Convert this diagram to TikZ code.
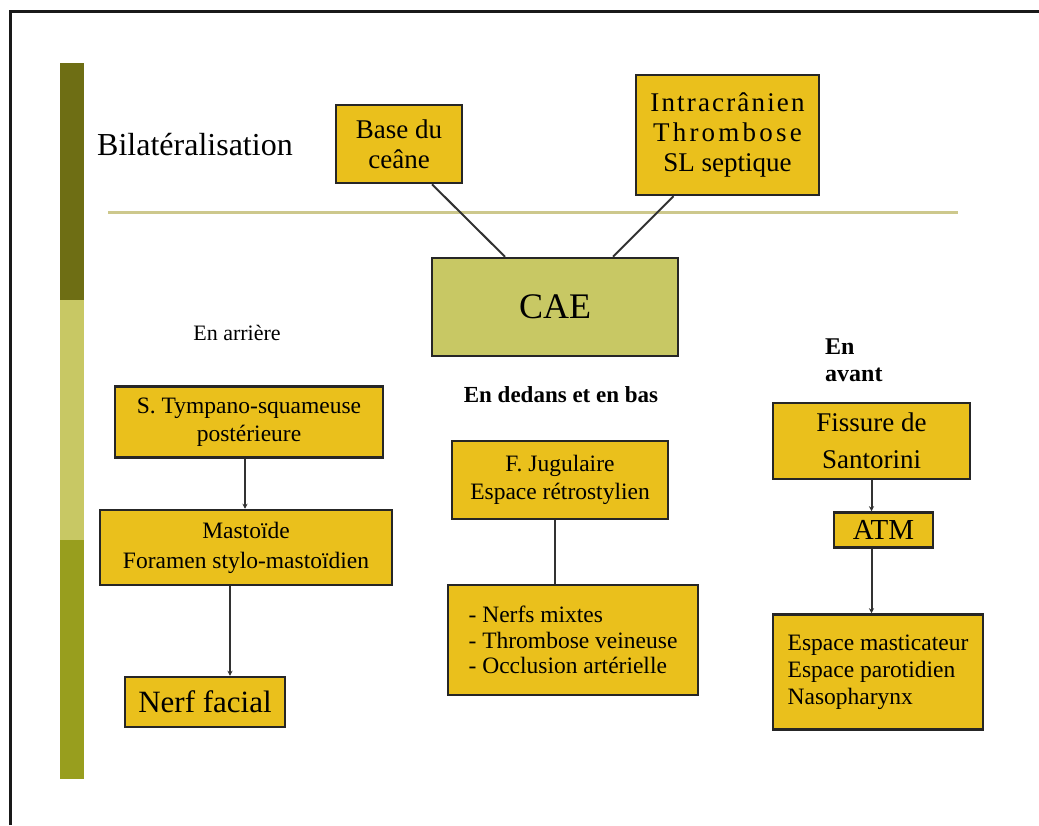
\documentclass[tikz,border=0pt]{standalone}
\usepackage{fontspec}
\setmainfont{Liberation Serif}
\usepackage{tikz}
\usetikzlibrary{arrows.meta,positioning}
\definecolor{slyellow}{RGB}{234,192,28}
\definecolor{slkhaki}{RGB}{200,200,100}
\definecolor{slolive}{RGB}{110,110,20}
\definecolor{slmoss}{RGB}{152,158,30}
\definecolor{slline}{RGB}{205,200,140}
\definecolor{slgrey}{RGB}{50,50,50}
\tikzstyle{arrow} = [line width=2pt,-{Stealth[length=5pt,width=5pt]},color=slgrey]
\tikzstyle{link} = [line width=2pt,color=slgrey]
\tikzstyle{jaune} = [rectangle, draw=black!85, fill=slyellow, line width=2.5pt, inner sep=2pt, align=center]
\tikzstyle{titre} = [inner sep=0pt, align=left]

\begin{document}
\begin{tikzpicture}[x=1pt, y=-1pt]
\useasboundingbox (0,0) rectangle (1039,825);
% cadre et barre
\draw[line width=3pt, black!90] (10,825) -- (10,11) -- (1039,11);
\fill[slolive] (60,63) rectangle (84,300);
\fill[slkhaki] (60,300) rectangle (84,540);
\fill[slmoss] (60,540) rectangle (84,779);
\draw[line width=3pt, slline] (108,212) -- (958,212);

% Bilateralisation
\node (bilat) [titre, anchor=base west, font=\fontsize{32}{36}\selectfont] at (97,155) {Bilatéralisation};
\node (base) [jaune, minimum width=126pt, minimum height=78pt, font=\fontsize{27}{30}\selectfont] at (399,144) {Base du\\ceâne};
\node (intra) [jaune, minimum width=183pt, minimum height=120pt, font=\fontsize{27}{30}\selectfont] at (727.5,135) {{\addfontfeature{LetterSpace=8}Intracrânien}\\{\addfontfeature{LetterSpace=12}Thrombose}\\SL septique};

% CAE
\node (cae) [jaune, fill=slkhaki, minimum width=246pt, minimum height=98pt, font=\fontsize{36}{40}\selectfont] at (555,307) {CAE};
\draw[link] ([xshift=33pt]base.south) -- ([xshift=-50pt]cae.north);
\draw[link] ([xshift=-54pt]intra.south) -- ([xshift=58pt]cae.north);

% En arriere
\node (arriere) [titre, font=\fontsize{22}{26}\selectfont] at (237,333) {En arrière};
\node (tympano) [jaune, minimum width=268pt, minimum height=71pt, font=\fontsize{23.5}{28}\selectfont] at (249,422) {S. Tympano-squameuse\\postérieure};
\node (mastoide) [jaune, minimum width=292pt, minimum height=75pt, font=\fontsize{23.5}{30}\selectfont] at (246,547.5) {Mastoïde\\Foramen stylo-mastoïdien};
\node (nerf) [jaune, minimum width=160pt, minimum height=50pt, font=\fontsize{31}{34}\selectfont] at (205,702) {Nerf facial};
\draw[arrow] ([xshift=-4pt]tympano.south) -- ([xshift=-4pt]tympano.south |- mastoide.north);
\draw[arrow] ([xshift=-16pt]mastoide.south) -- ([xshift=-16pt]mastoide.south |- nerf.north);

% En dedans et en bas
\node (dedans) [titre, font=\bfseries\fontsize{23}{27}\selectfont] at (561,395) {En dedans et en bas};
\node (jugulaire) [jaune, minimum width=216pt, minimum height=78pt, font=\fontsize{23.5}{28}\selectfont] at (560,480) {F. Jugulaire\\Espace rétrostylien};
\node (nerfs) [jaune, align=left, minimum width=250pt, minimum height=110pt, font=\fontsize{23.5}{25.5}\selectfont] at (573,640) {- Nerfs mixtes\\- Thrombose veineuse\\- Occlusion artérielle};
\draw[link] ([xshift=-5pt]jugulaire.south) -- ([xshift=-5pt]jugulaire.south |- nerfs.north);

% En avant
\node (avant) [titre, anchor=west, font=\bfseries\fontsize{24}{27}\selectfont] at (825,360) {En\\avant};
\node (fissure) [jaune, minimum width=197pt, minimum height=76pt, font=\fontsize{27}{37}\selectfont] at (871.5,441) {Fissure de\\Santorini};
\node (atm) [jaune, minimum width=99pt, minimum height=35pt, inner sep=0pt, font=\fontsize{29}{32}\selectfont] at (883.5,530) {ATM};
\node (espace) [jaune, align=left, minimum width=210pt, minimum height=115pt, font=\fontsize{23.5}{27}\selectfont] at (878,672) {Espace masticateur\\Espace parotidien\\Nasopharynx};
\draw[arrow] (fissure.south) -- (fissure.south |- atm.north);
\draw[arrow] (fissure.south |- atm.south) -- (fissure.south |- espace.north);
\end{tikzpicture}
\end{document}
